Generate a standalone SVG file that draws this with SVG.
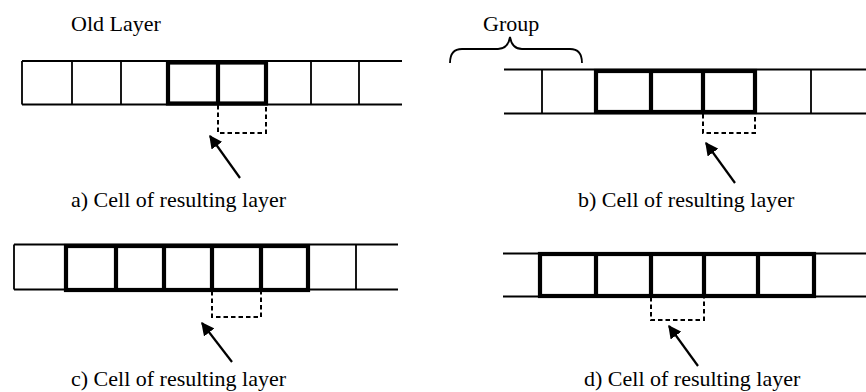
<svg xmlns="http://www.w3.org/2000/svg" width="866" height="392" viewBox="0 0 866 392">
<defs>
<style>
.t{font-family:"Liberation Serif","Times New Roman",serif;font-size:22px;fill:#000}
.thin{stroke:#000;stroke-width:1.8;fill:none}
.thick{stroke:#000;stroke-width:4.2;fill:none;stroke-linejoin:miter}
.dash{stroke:#000;stroke-width:2;fill:none;stroke-dasharray:4.5 3}
.arr{stroke:#000;stroke-width:2.2;fill:none}
</style>
<marker id="ah" viewBox="0 0 10 10" refX="9" refY="5" markerWidth="6" markerHeight="6" orient="auto" markerUnits="strokeWidth">
<path d="M0,0 L10,5 L0,10 z" fill="#000"/>
</marker>
</defs>
<rect width="866" height="392" fill="#fff"/>

<g id="panel-a">
<text class="t" x="71" y="31">Old Layer</text>
<path class="thin" d="M22,61 H402 M22,104.5 H402 M22,61 V104.5 M72,61 V104.5 M121,61 V104.5 M311,61 V104.5 M359,61 V104.5"/>
<rect class="thick" x="168" y="62.5" width="98" height="41"/>
<path class="thick" d="M218,62.5 V103.5"/>
<path class="dash" d="M218,105 V133 H266 V105"/>
<text class="t" x="71" y="207">a) Cell of resulting layer</text>
</g>

<g id="panel-b">
<text class="t" x="483" y="31">Group</text>
<path class="thin" d="M450,63 Q450,49 462,49 L498,49 Q508,49 510,37 Q512,49 522,49 L570,49 Q582,49 582,63"/>
<path class="thin" d="M504,69.5 H866 M504,113.5 H866 M542,69.5 V113.5 M811,69.5 V113.5"/>
<rect class="thick" x="596" y="71" width="159" height="41"/>
<path class="thick" d="M651,71 V112 M703,71 V112"/>
<path class="dash" d="M703,114 V133 H755 V114"/>
<text class="t" x="578" y="207">b) Cell of resulting layer</text>
</g>

<g id="panel-c">
<path class="thin" d="M14,244.5 H398 M14,289.5 H398 M14,244.5 V289.5 M356,244.5 V289.5"/>
<rect class="thick" x="66" y="246" width="242" height="44"/>
<path class="thick" d="M116,246 V290 M164,246 V290 M212,246 V290 M261,246 V290"/>
<path class="dash" d="M212,291 V317 H261 V291"/>
<text class="t" x="71" y="386">c) Cell of resulting layer</text>
</g>

<g id="panel-d">
<path class="thin" d="M503,253.5 H866 M503,296.5 H866"/>
<rect class="thick" x="540" y="254" width="274" height="42"/>
<path class="thick" d="M596,254 V296 M651,254 V296 M704,254 V296 M758,254 V296"/>
<path class="dash" d="M651,297 V320 H704 V297"/>
<text class="t" x="584" y="386">d) Cell of resulting layer</text>
</g>

<g id="connectors">
<path class="arr" d="M240,178 L210,136" marker-end="url(#ah)"/>
<path class="arr" d="M735,183 L706,143" marker-end="url(#ah)"/>
<path class="arr" d="M232,362 L202,323" marker-end="url(#ah)"/>
<path class="arr" d="M698,366 L669,326" marker-end="url(#ah)"/>
</g>
</svg>
